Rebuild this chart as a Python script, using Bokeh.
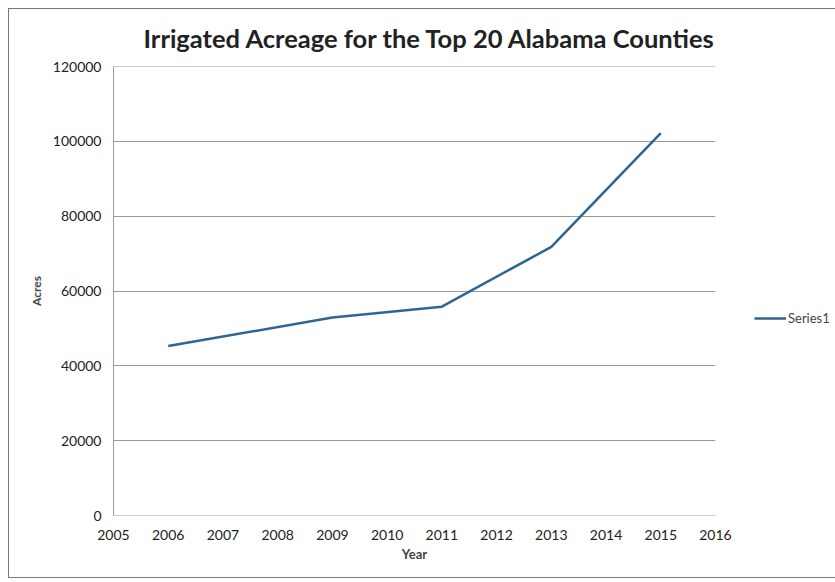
from bokeh.plotting import figure
from bokeh.models import FixedTicker, NumeralTickFormatter, Legend, LegendItem, Range1d, Span
from bokeh.embed import file_html
from bokeh.resources import INLINE

years = [2006, 2009, 2011, 2013, 2015]
acres = [45300, 52900, 55800, 71800, 102200]
x_ticks = list(range(2005, 2017))
y_ticks = [0, 20000, 40000, 60000, 80000, 100000, 120000]

FONT = "Lato"
GRID = "#9a9a9a"

p = figure(frame_width=602, frame_height=449, output_backend="svg", toolbar_location=None,
           x_range=Range1d(2005, 2016), y_range=Range1d(0, 120000),
           min_border_left=104, min_border_right=114, min_border_top=57, min_border_bottom=62)

p.title.text = "Irrigated Acreage for the Top 20 Alabama Counties"
p.title.text_font = FONT
p.title.text_font_size = "25.5px"
p.title.text_font_style = "bold"
p.title.text_color = "#222222"
p.title.align = "left"
p.title.vertical_align = "top"
p.title.offset = 30
p.title.standoff = 24

r = p.line(years, acres, line_color="#2C6596", line_width=2.5)

p.outline_line_color = None
p.background_fill_color = "white"
p.border_fill_color = "white"

p.xgrid.visible = False
p.ygrid.ticker = FixedTicker(ticks=y_ticks)
p.ygrid.grid_line_color = GRID
p.ygrid.grid_line_width = 1
for yv in (y_ticks[0], y_ticks[-1]):
    p.add_layout(Span(location=yv, dimension="width", line_color=GRID, line_width=1))

p.xaxis.ticker = FixedTicker(ticks=x_ticks)
p.xaxis.axis_line_color = None
p.xaxis.major_tick_line_color = None
p.xaxis.minor_tick_line_color = None
p.xaxis.major_label_text_font = FONT
p.xaxis.major_label_text_font_size = "14px"
p.xaxis.major_label_text_color = "#222222"
p.xaxis.major_label_standoff = 8
p.xaxis.axis_label = "Year"
p.xaxis.axis_label_text_font = FONT
p.xaxis.axis_label_text_font_style = "bold"
p.xaxis.axis_label_text_font_size = "13px"
p.xaxis.axis_label_standoff = 3

p.yaxis.ticker = FixedTicker(ticks=y_ticks)
p.yaxis.formatter = NumeralTickFormatter(format="0")
p.yaxis.axis_line_color = GRID
p.yaxis.major_tick_line_color = None
p.yaxis.minor_tick_line_color = None
p.yaxis.major_label_text_font = FONT
p.yaxis.major_label_text_font_size = "14px"
p.yaxis.major_label_text_color = "#222222"
p.yaxis.major_label_standoff = 6
p.yaxis.axis_label = "Acres"
p.yaxis.axis_label_text_font = FONT
p.yaxis.axis_label_text_font_style = "bold"
p.yaxis.axis_label_text_font_size = "12px"
p.yaxis.axis_label_standoff = 6

legend = Legend(items=[LegendItem(label="Series1", renderers=[r])],
                location=(39, 187), border_line_color=None, background_fill_alpha=0,
                label_text_font=FONT, label_text_font_size="13px", glyph_width=32,
                label_standoff=2, padding=0, margin=0)
p.add_layout(legend, "right")

p.styles = {"border": "1px solid #777777", "margin-left": "8px", "margin-top": "8px"}

open("out.html", "w").write(file_html(p, INLINE))
